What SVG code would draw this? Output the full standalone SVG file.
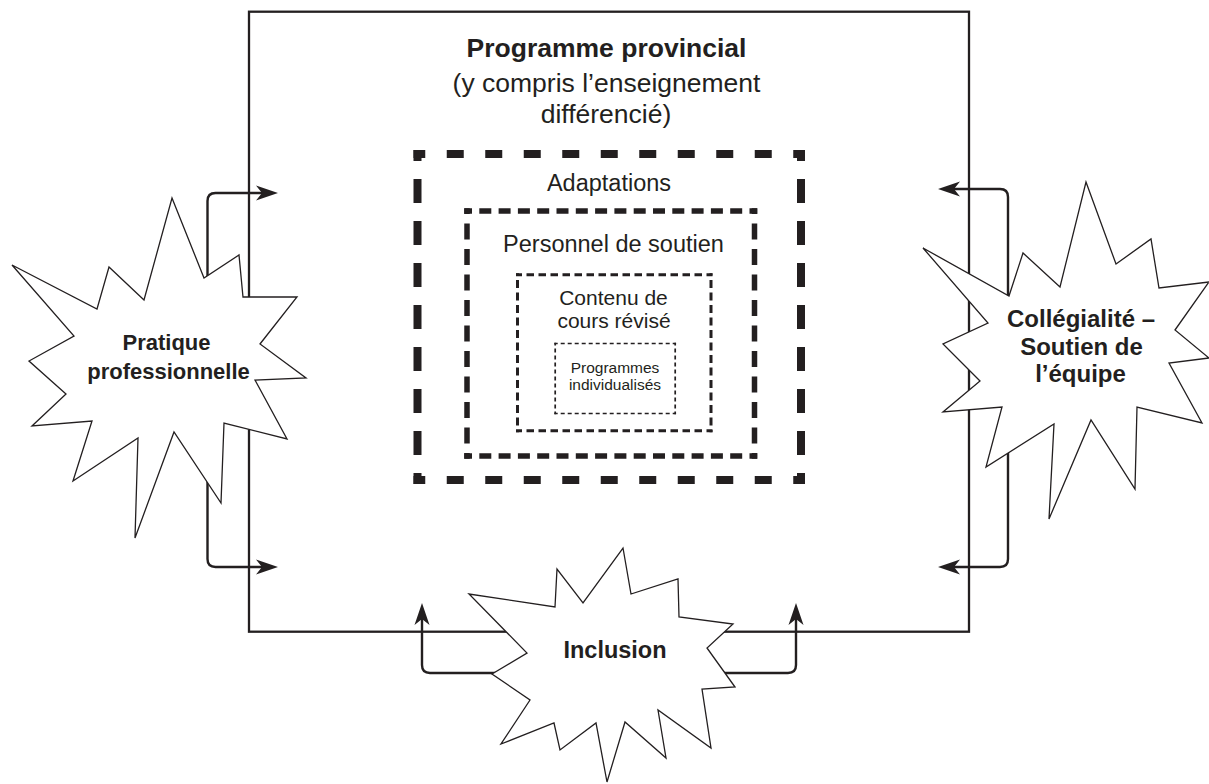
<svg xmlns="http://www.w3.org/2000/svg" width="1209" height="784" viewBox="0 0 1209 784">
<style>
  .t { font-family: "Liberation Sans", Arial, sans-serif; fill: #231f20; text-anchor: middle; }
  .b { font-weight: bold; }
  .burst { fill: #ffffff; stroke: #231f20; stroke-width: 1.3; stroke-linejoin: miter; }
  .conn { fill: none; stroke: #231f20; stroke-width: 2.4; }
  .d1 { stroke: #231f20; stroke-width: 8; fill: none; }
  .d2 { stroke: #231f20; stroke-width: 5.5; fill: none; }
  .d3 { stroke: #231f20; stroke-width: 3; fill: none; }
  .d4 { stroke: #231f20; stroke-width: 1.7; fill: none; }
</style>
<defs>
  <marker id="ah" markerUnits="userSpaceOnUse" markerWidth="24" markerHeight="16" refX="10" refY="8" orient="auto">
    <path d="M0,0.5 L22,8 L0,15.5 L6,8 Z" fill="#231f20"/>
  </marker>
</defs>
<rect width="1209" height="784" fill="#ffffff"/>

<g id="programme-provincial">
  <rect x="249" y="11.7" width="720" height="620" fill="none" stroke="#231f20" stroke-width="2.3"/>
  <text class="t b" x="606.5" y="57" font-size="26.5">Programme provincial</text>
  <text class="t" x="606.5" y="91.5" font-size="26.5">(y compris l’enseignement</text>
  <text class="t" x="606" y="123" font-size="26.5">différencié)</text>
</g>

<g id="adaptations">
  <line class="d1" x1="413.5" y1="154" x2="805" y2="154" stroke-dasharray="17 21.5" stroke-dashoffset="5.25"/>
  <line class="d1" x1="413.5" y1="480" x2="805" y2="480" stroke-dasharray="17 21.5" stroke-dashoffset="5.25"/>
  <line class="d1" x1="417.5" y1="150" x2="417.5" y2="484" stroke-dasharray="24 18" stroke-dashoffset="13"/>
  <line class="d1" x1="801" y1="150" x2="801" y2="484" stroke-dasharray="24 18" stroke-dashoffset="13"/>
  <text class="t" x="609" y="190.5" font-size="23.5">Adaptations</text>
</g>

<g id="personnel-de-soutien">
  <line class="d2" x1="464.25" y1="211" x2="757.25" y2="211" stroke-dasharray="12 7.3" stroke-dashoffset="4.25"/>
  <line class="d2" x1="464.25" y1="456" x2="757.25" y2="456" stroke-dasharray="12 7.3" stroke-dashoffset="4.25"/>
  <line class="d2" x1="467" y1="208.25" x2="467" y2="458.75" stroke-dasharray="16 9.5" stroke-dashoffset="10.25"/>
  <line class="d2" x1="754.5" y1="208.25" x2="754.5" y2="458.75" stroke-dasharray="16 9.5" stroke-dashoffset="10.25"/>
  <text class="t" x="613.5" y="252" font-size="23.5">Personnel de soutien</text>
</g>

<g id="contenu-de-cours">
  <line class="d3" x1="516" y1="274.7" x2="712.5" y2="274.7" stroke-dasharray="7.5 4.5" stroke-dashoffset="1.5"/>
  <line class="d3" x1="516" y1="430.8" x2="712.5" y2="430.8" stroke-dasharray="7.5 4.5" stroke-dashoffset="1.5"/>
  <line class="d3" x1="517.5" y1="273.2" x2="517.5" y2="432.3" stroke-dasharray="8 4.5" stroke-dashoffset="5.75"/>
  <line class="d3" x1="711" y1="273.2" x2="711" y2="432.3" stroke-dasharray="8 4.5" stroke-dashoffset="5.75"/>
  <text class="t" x="613.5" y="305" font-size="21">Contenu de</text>
  <text class="t" x="614" y="328" font-size="21">cours révisé</text>
</g>

<g id="programmes-individualises">
  <line class="d4" x1="554.35" y1="343.5" x2="676.05" y2="343.5" stroke-dasharray="4 3" stroke-dashoffset="0.65"/>
  <line class="d4" x1="554.35" y1="413.5" x2="676.05" y2="413.5" stroke-dasharray="4 3" stroke-dashoffset="0.65"/>
  <line class="d4" x1="555.2" y1="342.65" x2="555.2" y2="414.35" stroke-dasharray="4 3" stroke-dashoffset="1.15"/>
  <line class="d4" x1="675.2" y1="342.65" x2="675.2" y2="414.35" stroke-dasharray="4 3" stroke-dashoffset="1.15"/>
  <text class="t" x="615" y="373" font-size="15.5">Programmes</text>
  <text class="t" x="615" y="390" font-size="15.5">individualisés</text>
</g>

<g id="connectors">
  <path class="conn" d="M207.5,300 V201 Q207.5,193 215.5,193 H266" marker-end="url(#ah)"/>
  <path class="conn" d="M207.5,470 V559 Q207.5,567 215.5,567 H266" marker-end="url(#ah)"/>
  <path class="conn" d="M1008,310 V197 Q1008,189 1000,189 H950" marker-end="url(#ah)"/>
  <path class="conn" d="M1008,450 V559 Q1008,567 1000,567 H950" marker-end="url(#ah)"/>
  <path class="conn" d="M505,673 H430 Q422,673 422,665 V615" marker-end="url(#ah)"/>
  <path class="conn" d="M715,673 H788 Q796,673 796,665 V615" marker-end="url(#ah)"/>
</g>

<g id="pratique-professionnelle">
  <polygon class="burst" points="172,198 204,278 239,255 243,297 297,297 260,344 306,378 255,380 287,439 224,423 221,503 174,432 135,538 138,438 73,481 92,421 32,426 66,394 29,361 74,336 12,265 97,309 109,267 144,300"/>
  <text class="t b" x="166.5" y="350" font-size="22">Pratique</text>
  <text class="t b" x="168.5" y="379" font-size="22">professionnelle</text>
</g>

<g id="collegialite">
  <polygon class="burst" points="1086,182 1116,264 1151,239 1159,288 1209,282 1175,330 1209,358 1169,363 1202,423 1137,407 1135,489 1091,420 1049,519 1054,424 986,467 1002,407 943,412 980,381 943,344 988,323 923,248 1009,296 1023,253 1060,287"/>
  <text class="t b" x="1081" y="327" font-size="24">Collégialité –</text>
  <text class="t b" x="1081.5" y="354.5" font-size="24">Soutien de</text>
  <text class="t b" x="1080.5" y="382" font-size="24">l’équipe</text>
</g>

<g id="inclusion">
  <polygon class="burst" points="623,548 631,594 678,579 679,617 733,624 707,648 735,687 702,689 711,748 658,710 666,758 625,722 607,782 596,723 560,750 554,723 501,744 530,700 492,674 527,653 469,594 555,607 557,569 583,603"/>
  <text class="t b" x="615" y="658" font-size="23.5">Inclusion</text>
</g>
</svg>
